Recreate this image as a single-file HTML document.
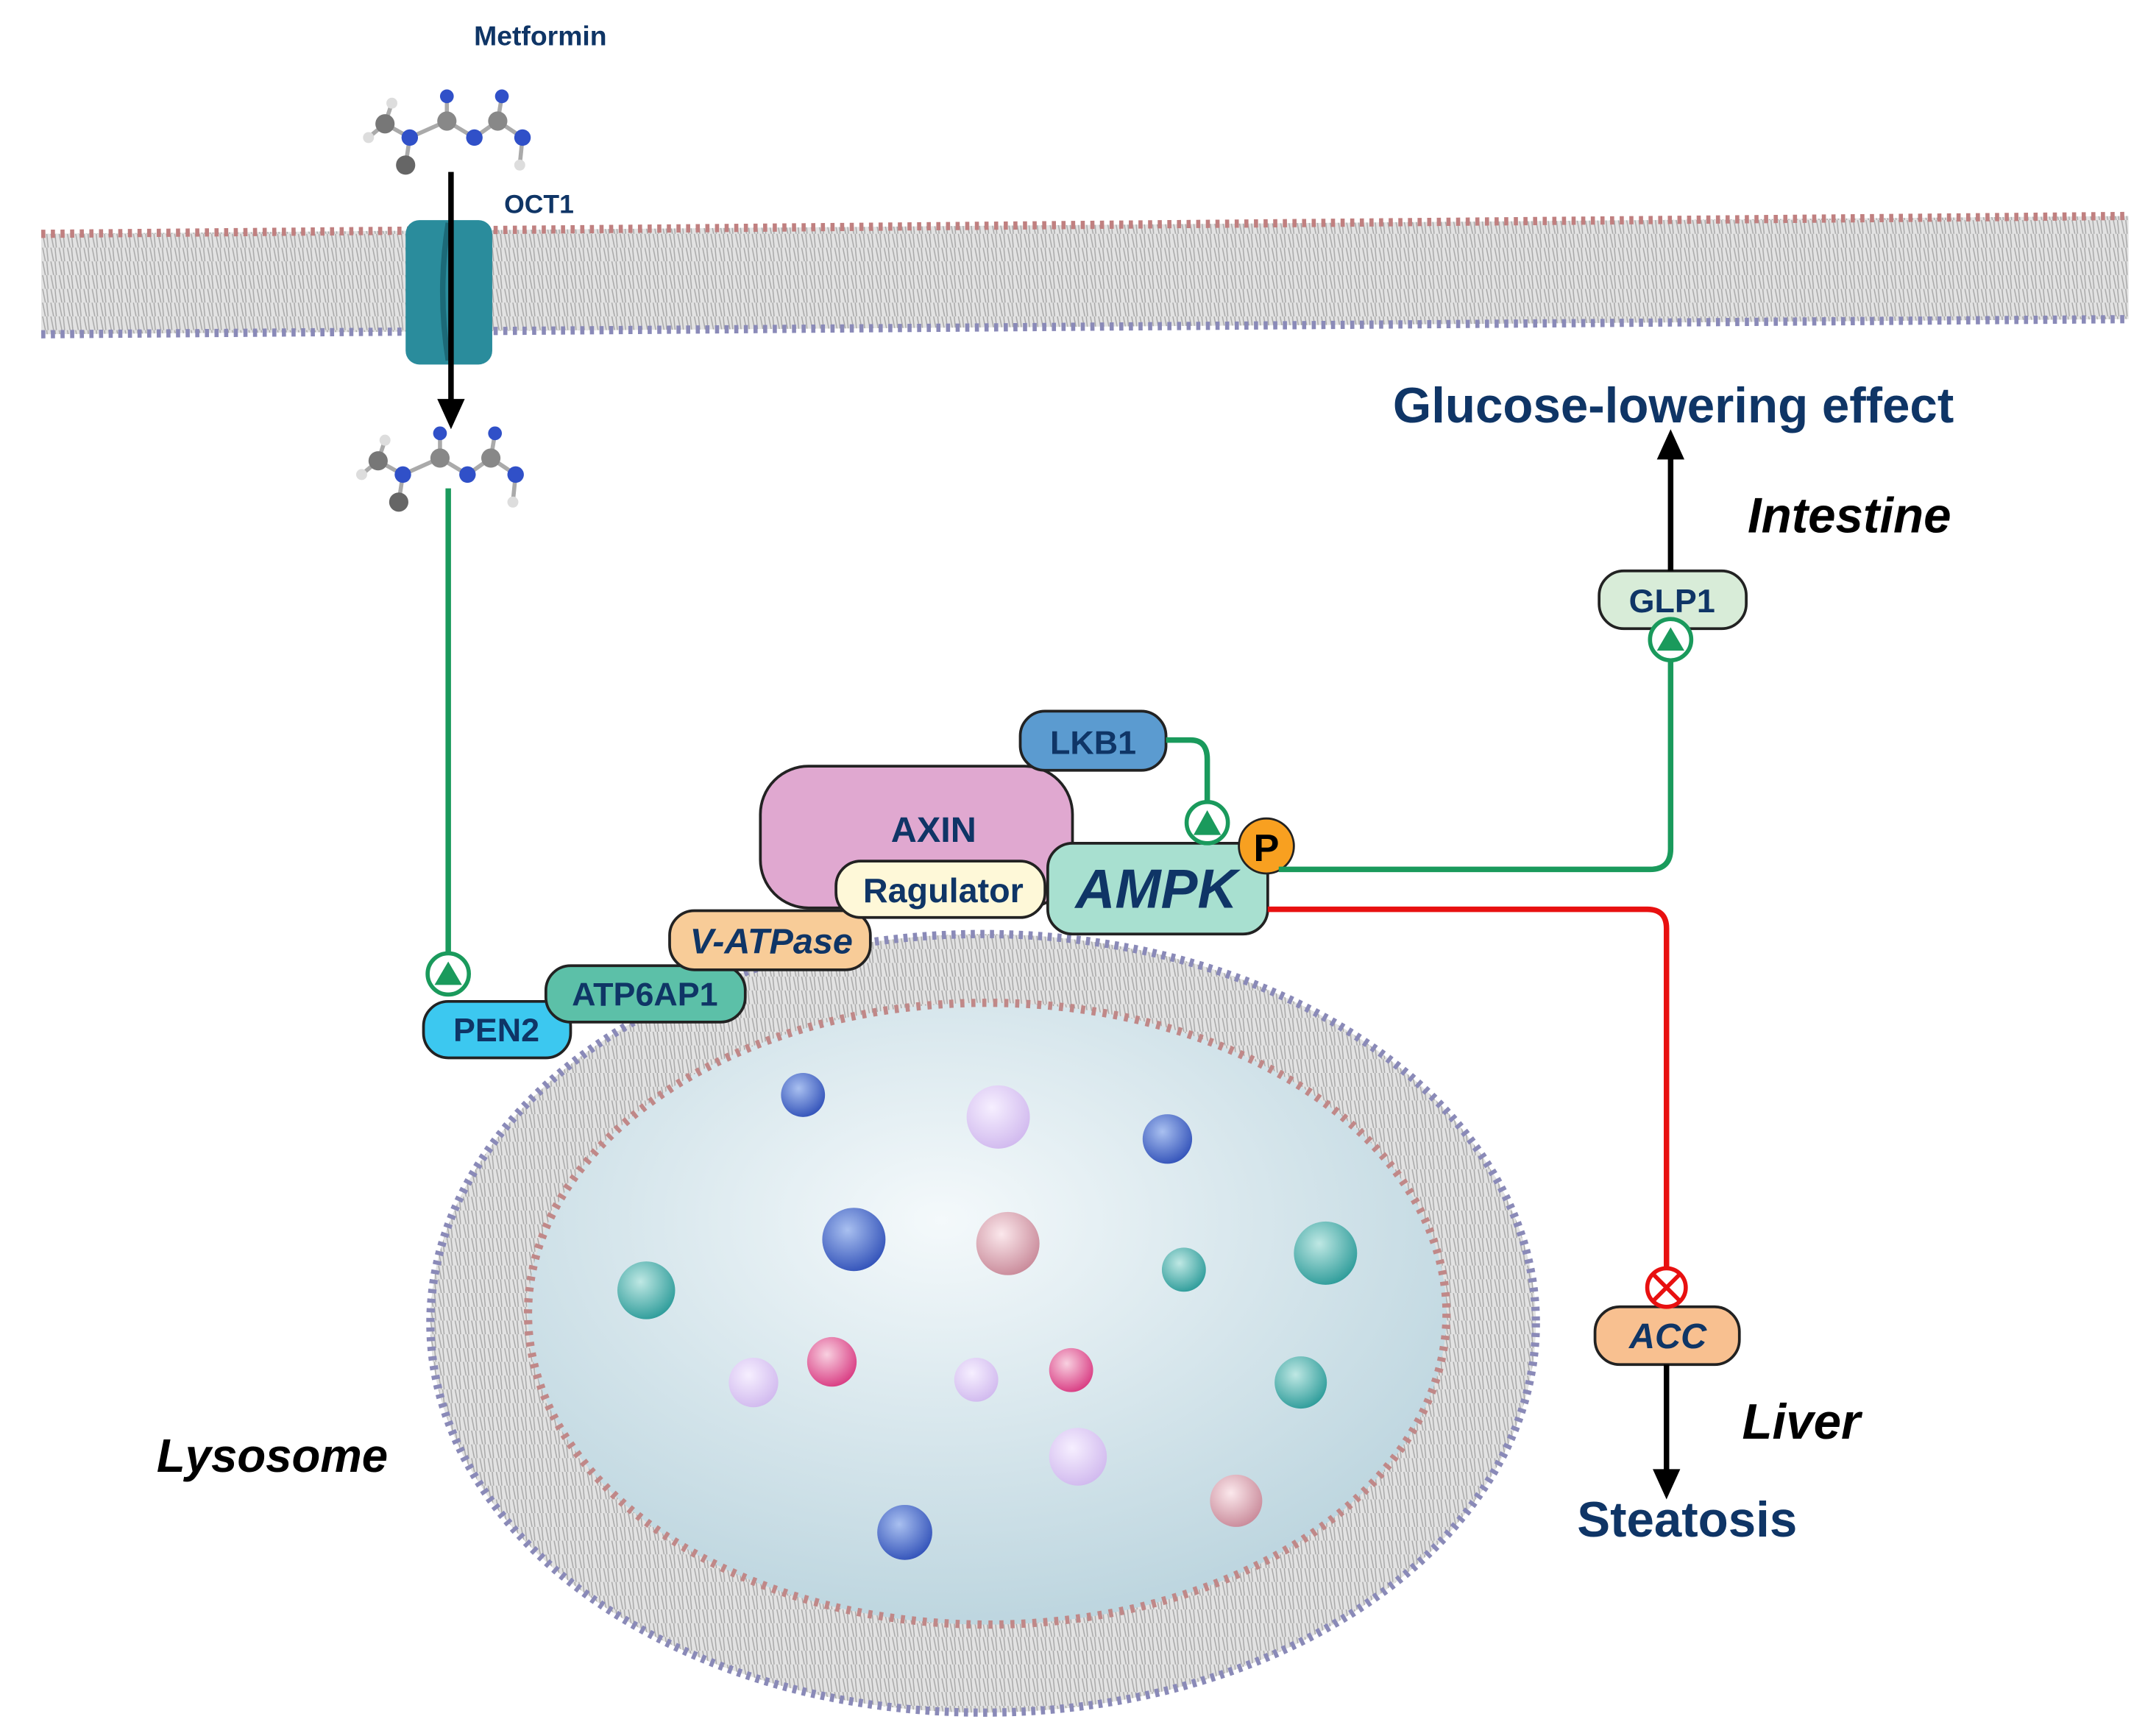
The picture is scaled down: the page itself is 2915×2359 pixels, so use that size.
<!DOCTYPE html>
<html><head><meta charset="utf-8"><style>
html,body{margin:0;padding:0;background:#fff}
svg{display:block}
text{font-family:"Liberation Sans",sans-serif;font-weight:bold;fill:#0f3566}
</style></head><body>
<svg width="2915" height="2359" viewBox="0 0 1560 1262" preserveAspectRatio="none" xmlns="http://www.w3.org/2000/svg">
<defs>
<pattern id="lip" width="6" height="10" patternUnits="userSpaceOnUse">
<rect width="6" height="10" fill="#e2e2e2"/>
<path d="M1 0 L3 10 M4 0 L5 10" stroke="#a8a8a8" stroke-width="0.8"/>
</pattern>
<radialGradient id="cav" cx="0.45" cy="0.35" r="0.7">
<stop offset="0" stop-color="#f4f9fb"/><stop offset="1" stop-color="#b9d3dd"/>
</radialGradient>
<radialGradient id="bb" cx="0.4" cy="0.35" r="0.7"><stop offset="0" stop-color="#a9c0f0"/><stop offset="1" stop-color="#3050b8"/></radialGradient>
<radialGradient id="bt" cx="0.4" cy="0.35" r="0.7"><stop offset="0" stop-color="#bfe8e4"/><stop offset="1" stop-color="#2a9a98"/></radialGradient>
<radialGradient id="bp" cx="0.4" cy="0.35" r="0.7"><stop offset="0" stop-color="#f8d0e0"/><stop offset="1" stop-color="#d83880"/></radialGradient>
<radialGradient id="bl" cx="0.4" cy="0.35" r="0.7"><stop offset="0" stop-color="#f6efff"/><stop offset="1" stop-color="#d0b8ee"/></radialGradient>
<radialGradient id="br" cx="0.4" cy="0.35" r="0.7"><stop offset="0" stop-color="#fbe8ec"/><stop offset="1" stop-color="#c88898"/></radialGradient>
</defs>

<!-- plasma membrane -->
<path d="M30 170 L1548 157 L1548 232 L30 243 Z" fill="url(#lip)"/>
<path d="M30 170 L1548 157" stroke="#c08080" stroke-width="6" stroke-dasharray="3 4"/>
<path d="M30 243 L1548 232" stroke="#8a8ab8" stroke-width="6" stroke-dasharray="3 4"/>

<!-- OCT1 -->
<rect x="295" y="160" width="63" height="105" rx="10" fill="#2a8c9c"/>
<path d="M326 162 Q318 212 326 262" stroke="#1c6a78" stroke-width="4" fill="none"/>
<text x="392" y="155" font-size="19" text-anchor="middle">OCT1</text>
<text x="393" y="33" font-size="20" text-anchor="middle">Metformin</text>

<!-- molecules -->
<g id="mol">
<path d="M280 90 L298 100 L325 88 L345 100 L362 88 L380 100 M298 100 L295 120 M325 88 L325 70 M362 88 L365 70 M380 100 L378 120 M280 90 L268 100 M280 90 L285 75" stroke="#aaa" stroke-width="3" fill="none"/>
<circle cx="298" cy="100" r="6" fill="#3050c8"/><circle cx="325" cy="88" r="7" fill="#888"/><circle cx="345" cy="100" r="6" fill="#3050c8"/><circle cx="362" cy="88" r="7" fill="#888"/><circle cx="380" cy="100" r="6" fill="#3050c8"/><circle cx="325" cy="70" r="5" fill="#3050c8"/><circle cx="365" cy="70" r="5" fill="#3050c8"/><circle cx="280" cy="90" r="7" fill="#777"/><circle cx="295" cy="120" r="7" fill="#666"/><circle cx="378" cy="120" r="4" fill="#ddd"/><circle cx="268" cy="100" r="4" fill="#ddd"/><circle cx="285" cy="75" r="4" fill="#ddd"/>
</g>
<use href="#mol" transform="translate(-5,245)"/>

<!-- black arrow into cell -->
<line x1="328" y1="125" x2="328" y2="295" stroke="#000" stroke-width="4"/>
<path d="M318 290 L338 290 L328 312 Z" fill="#000"/>

<!-- green metformin line -->
<line x1="326" y1="355" x2="326" y2="695" stroke="#1a9a5c" stroke-width="4"/>
<circle cx="326" cy="708" r="15" fill="#fff" stroke="#1a9a5c" stroke-width="3"/>
<path d="M316 716 L336 716 L326 699 Z" fill="#1a9a5c"/>

<!-- lysosome -->
<ellipse cx="715" cy="962" rx="402" ry="283" fill="url(#lip)"/>
<ellipse cx="715" cy="962" rx="402" ry="283" fill="none" stroke="#8a8ab8" stroke-width="6" stroke-dasharray="3 4"/>
<ellipse cx="718" cy="955" rx="334" ry="226" fill="url(#cav)"/>
<ellipse cx="718" cy="955" rx="334" ry="226" fill="none" stroke="#c08888" stroke-width="6" stroke-dasharray="3 5"/>
<circle cx="584" cy="796" r="16" fill="url(#bb)"/>
<circle cx="726" cy="812" r="23" fill="url(#bl)"/>
<circle cx="849" cy="828" r="18" fill="url(#bb)"/>
<circle cx="621" cy="901" r="23" fill="url(#bb)"/>
<circle cx="733" cy="904" r="23" fill="url(#br)"/>
<circle cx="861" cy="923" r="16" fill="url(#bt)"/>
<circle cx="964" cy="911" r="23" fill="url(#bt)"/>
<circle cx="470" cy="938" r="21" fill="url(#bt)"/>
<circle cx="605" cy="990" r="18" fill="url(#bp)"/>
<circle cx="548" cy="1005" r="18" fill="url(#bl)"/>
<circle cx="710" cy="1003" r="16" fill="url(#bl)"/>
<circle cx="779" cy="996" r="16" fill="url(#bp)"/>
<circle cx="946" cy="1005" r="19" fill="url(#bt)"/>
<circle cx="784" cy="1059" r="21" fill="url(#bl)"/>
<circle cx="899" cy="1091" r="19" fill="url(#br)"/>
<circle cx="658" cy="1114" r="20" fill="url(#bb)"/>
<text x="198" y="1070" font-size="34" font-style="italic" style="fill:#000" text-anchor="middle">Lysosome</text>

<!-- complex -->
<rect x="553" y="557" width="227" height="103" rx="35" fill="#e0a8d0" stroke="#222" stroke-width="2"/>
<text x="679" y="612" font-size="26" text-anchor="middle">AXIN</text>
<rect x="742" y="517" width="106" height="43" rx="18" fill="#5b9bd0" stroke="#222" stroke-width="2"/>
<text x="795" y="548" font-size="24" text-anchor="middle">LKB1</text>
<rect x="308" y="728" width="107" height="41" rx="18" fill="#3cc8f0" stroke="#222" stroke-width="2"/>
<text x="361" y="757" font-size="24" text-anchor="middle">PEN2</text>
<rect x="397" y="702" width="145" height="41" rx="18" fill="#5cc0a8" stroke="#222" stroke-width="2"/>
<text x="469" y="731" font-size="24" text-anchor="middle">ATP6AP1</text>
<rect x="487" y="662" width="146" height="43" rx="18" fill="#f8cc98" stroke="#222" stroke-width="2"/>
<text x="561" y="693" font-size="26" font-style="italic" text-anchor="middle">V-ATPase</text>
<rect x="608" y="626" width="152" height="41" rx="18" fill="#fef8d8" stroke="#222" stroke-width="2"/>
<text x="686" y="656" font-size="25" text-anchor="middle">Ragulator</text>
<rect x="762" y="613" width="160" height="66" rx="18" fill="#a8e0d0" stroke="#222" stroke-width="2"/>
<text x="841" y="660" font-size="40" font-style="italic" text-anchor="middle">AMPK</text>

<!-- LKB1 -> AMPK -->
<path d="M848 538 L866 538 Q878 538 878 552 L878 585" stroke="#1a9a5c" stroke-width="4" fill="none"/>
<circle cx="878" cy="598" r="15" fill="#fff" stroke="#1a9a5c" stroke-width="3"/>
<path d="M868 607 L888 607 L878 589 Z" fill="#1a9a5c"/>
<circle cx="921" cy="615" r="20" fill="#f8a020" stroke="#222" stroke-width="1.5"/>
<text x="921" y="626" font-size="28" style="fill:#000" text-anchor="middle">P</text>

<!-- AMPK -> GLP1 -->
<path d="M930 632 L1200 632 Q1215 632 1215 617 L1215 480" stroke="#1a9a5c" stroke-width="4" fill="none"/>
<rect x="1163" y="415" width="107" height="42" rx="18" fill="#d8ecd8" stroke="#222" stroke-width="2"/>
<text x="1216" y="445" font-size="24" text-anchor="middle">GLP1</text>
<circle cx="1215" cy="465" r="15" fill="#fff" stroke="#1a9a5c" stroke-width="3"/>
<path d="M1205 473 L1225 473 L1215 456 Z" fill="#1a9a5c"/>
<line x1="1215" y1="415" x2="1215" y2="330" stroke="#000" stroke-width="4"/>
<path d="M1205 334 L1225 334 L1215 312 Z" fill="#000"/>
<text x="1217" y="307" font-size="36" text-anchor="middle">Glucose-lowering effect</text>
<text x="1345" y="387" font-size="36" font-style="italic" style="fill:#000" text-anchor="middle">Intestine</text>

<!-- AMPK -> ACC -->
<path d="M922 661 L1198 661 Q1212 661 1212 675 L1212 921" stroke="#e81010" stroke-width="4" fill="none"/>
<rect x="1160" y="950" width="105" height="42" rx="18" fill="#f8c090" stroke="#222" stroke-width="2"/>
<text x="1213" y="980" font-size="26" font-style="italic" text-anchor="middle">ACC</text>
<circle cx="1212" cy="936" r="14" fill="#fff" stroke="#e81010" stroke-width="3"/>
<path d="M1203 927 L1221 945 M1221 927 L1203 945" stroke="#e81010" stroke-width="3"/>
<line x1="1212" y1="992" x2="1212" y2="1072" stroke="#000" stroke-width="4"/>
<path d="M1202 1068 L1222 1068 L1212 1090 Z" fill="#000"/>
<text x="1227" y="1117" font-size="36" text-anchor="middle">Steatosis</text>
<text x="1310" y="1046" font-size="36" font-style="italic" style="fill:#000" text-anchor="middle">Liver</text>
</svg>
</body></html>
